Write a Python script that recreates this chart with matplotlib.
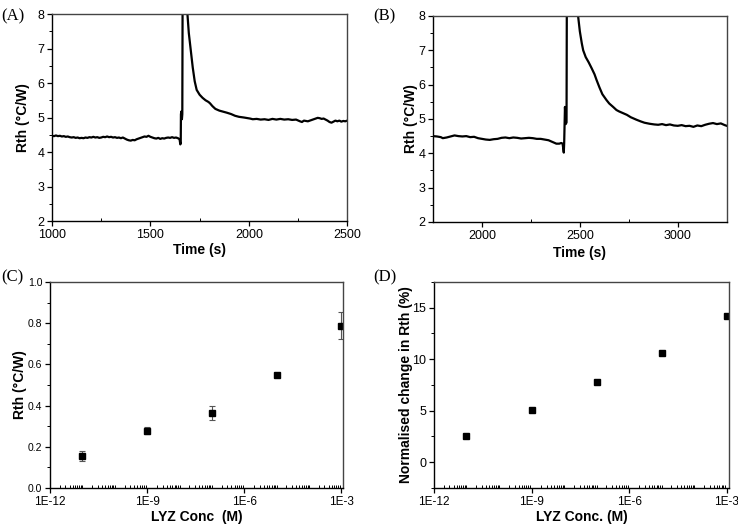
import numpy as np
import matplotlib
matplotlib.use("Agg")
import matplotlib.pyplot as plt
from matplotlib.ticker import MultipleLocator, LogLocator, FixedLocator, FuncFormatter, NullFormatter

plt.rcParams['font.family'] = ['Liberation Sans', 'DejaVu Sans']

# (A) time trace, 1st sensor run
t_a = [1000, 1010, 1020, 1030, 1040, 1050, 1060, 1070, 1080, 1090, 1100, 1110, 1120, 1130, 1140,
       1150, 1160, 1170, 1180, 1190, 1200, 1210, 1220, 1230, 1240, 1250, 1260, 1270, 1280, 1290,
       1300, 1310, 1320, 1330, 1340, 1350, 1360, 1370, 1380, 1390, 1400, 1410, 1420, 1430, 1440,
       1450, 1460, 1470, 1480, 1490, 1500, 1510, 1520, 1530, 1540, 1550, 1560, 1570, 1580, 1590,
       1600, 1610, 1620, 1630, 1640, 1648, 1652, 1654, 1655, 1658, 1660, 1662, 1664, 1686, 1688,
       1695, 1705, 1715, 1725, 1735, 1750, 1765, 1780, 1795, 1803, 1815, 1830, 1850, 1870, 1888,
       1910, 1930, 1950, 1975, 2006, 2020, 2040, 2060, 2080, 2100, 2120, 2140, 2160, 2180, 2200,
       2220, 2240, 2260, 2270, 2280, 2300, 2320, 2340, 2350, 2360, 2370, 2380, 2390, 2400, 2410,
       2420, 2430, 2440, 2450, 2460, 2470, 2480, 2490, 2500]
r_a = [4.47, 4.46, 4.48, 4.46, 4.47, 4.45, 4.46, 4.44, 4.45, 4.43, 4.42, 4.43, 4.41, 4.42, 4.40,
       4.41, 4.40, 4.42, 4.41, 4.43, 4.42, 4.44, 4.42, 4.43, 4.41, 4.42, 4.44, 4.43, 4.45, 4.43,
       4.44, 4.42, 4.43, 4.41, 4.42, 4.40, 4.42, 4.39, 4.36, 4.34, 4.33, 4.35, 4.34, 4.37, 4.39,
       4.41, 4.43, 4.45, 4.44, 4.47, 4.44, 4.42, 4.40, 4.39, 4.41, 4.38, 4.40, 4.39, 4.41, 4.42,
       4.41, 4.43, 4.41, 4.42, 4.40, 4.37, 4.22, 4.26, 5.10, 5.18, 4.95, 5.10, 9.50, 9.50, 8.00,
       7.45, 6.96, 6.45, 6.05, 5.80, 5.66, 5.57, 5.50, 5.45, 5.41, 5.33, 5.25, 5.20, 5.17, 5.14,
       5.10, 5.05, 5.02, 5.00, 4.97, 4.95, 4.96, 4.94, 4.95, 4.93, 4.96, 4.94, 4.96, 4.94, 4.95,
       4.93, 4.94, 4.89, 4.87, 4.91, 4.89, 4.93, 4.97, 4.99, 4.98, 4.96, 4.97, 4.94, 4.91, 4.87,
       4.85, 4.88, 4.91, 4.89, 4.91, 4.88, 4.90, 4.89, 4.91]

# (B) time trace, 2nd sensor run
t_b = [1750, 1770, 1790, 1800, 1820, 1840, 1860, 1880, 1900, 1920, 1940, 1960, 1980, 2000, 2020,
       2040, 2060, 2080, 2100, 2120, 2140, 2160, 2180, 2200, 2220, 2240, 2260, 2280, 2300, 2320,
       2340, 2360, 2380, 2395, 2405, 2412, 2418, 2420, 2424, 2428, 2432, 2434, 2488, 2491, 2500,
       2510, 2517, 2530, 2545, 2560, 2575, 2585, 2600, 2615, 2636, 2650, 2670, 2687, 2700, 2720,
       2740, 2760, 2788, 2810, 2830, 2856, 2880, 2900, 2920, 2940, 2960, 2980, 3000, 3020, 3040,
       3060, 3080, 3100, 3120, 3140, 3160, 3180, 3200, 3220, 3240, 3250]
r_b = [4.50, 4.49, 4.47, 4.44, 4.46, 4.49, 4.52, 4.50, 4.49, 4.50, 4.47, 4.48, 4.44, 4.42, 4.40,
       4.39, 4.41, 4.42, 4.45, 4.46, 4.44, 4.46, 4.45, 4.43, 4.44, 4.45, 4.44, 4.42, 4.42, 4.40,
       4.38, 4.33, 4.28, 4.28, 4.30, 4.28, 4.02, 4.30, 5.35, 4.85, 4.90, 9.50, 9.50, 8.00, 7.55,
       7.20, 7.00, 6.80, 6.65, 6.48, 6.30, 6.14, 5.92, 5.72, 5.55, 5.45, 5.35, 5.26, 5.22, 5.17,
       5.12, 5.05, 4.98, 4.93, 4.89, 4.86, 4.84, 4.83, 4.85, 4.82, 4.84, 4.81, 4.80, 4.82, 4.79,
       4.80, 4.77, 4.81, 4.79, 4.83, 4.86, 4.88, 4.85, 4.87, 4.82, 4.80]

# (C) and (D) concentration series
conc = [1e-11, 1e-9, 1e-7, 1e-5, 1e-3]
rth_c = [0.155, 0.278, 0.365, 0.547, 0.787]
err_c = [0.026, 0.018, 0.035, 0.006, 0.065]
norm_d = [2.55, 5.1, 7.8, 10.65, 14.15]


def style(ax):
    for s in ['left', 'bottom']:
        ax.spines[s].set_color('black')
    for s in ['top', 'right']:
        ax.spines[s].set_color('#444444')
    for s in ax.spines.values():
        s.set_linewidth(1.0)
    ax.tick_params(which='major', direction='out', length=3.5, width=0.9, pad=2, labelsize=9)
    ax.tick_params(axis='y', which='minor', direction='out', length=2, width=0.7)
    ax.tick_params(axis='x', which='minor', direction='in', length=2, width=0.7)


LAB = dict(fontsize=10, fontweight='bold')

fig = plt.figure(figsize=(7.38, 5.31), dpi=100)

axA = fig.add_axes([0.0705, 0.5838, 0.400, 0.3898])
axA.plot(t_a, r_a, color='black', lw=1.6)
axA.set_xlim(1000, 2500)
axA.set_ylim(2, 8)
axA.xaxis.set_major_locator(MultipleLocator(500))
axA.xaxis.set_minor_locator(MultipleLocator(250))
axA.yaxis.set_major_locator(MultipleLocator(1))
axA.yaxis.set_minor_locator(MultipleLocator(0.5))
style(axA)
axA.set_xlabel('Time (s)', **LAB)
axA.set_ylabel('Rth (°C/W)', **LAB)
axA.xaxis.set_label_coords(0.5, -0.106)
axA.yaxis.set_label_coords(-0.075, 0.5)

axB = fig.add_axes([0.5867, 0.582, 0.398, 0.388])
axB.plot(t_b, r_b, color='black', lw=1.6)
axB.set_xlim(1750, 3250)
axB.set_ylim(2, 8)
axB.xaxis.set_major_locator(MultipleLocator(500))
axB.xaxis.set_minor_locator(MultipleLocator(250))
axB.yaxis.set_major_locator(MultipleLocator(1))
axB.yaxis.set_minor_locator(MultipleLocator(0.5))
style(axB)
axB.set_xlabel('Time (s)', **LAB)
axB.set_ylabel('Rth (°C/W)', **LAB)
axB.xaxis.set_label_coords(0.5, -0.117)
axB.yaxis.set_label_coords(-0.051, 0.5)

sci = FuncFormatter(lambda v, p: '1E%d' % int(round(np.log10(v))))

axC = fig.add_axes([0.0678, 0.081, 0.397, 0.388])
axC.errorbar(conc, rth_c, yerr=err_c, fmt='s', color='black', ms=5,
             ecolor='#555555', elinewidth=0.8, capsize=2.5, capthick=0.8)
axC.set_xscale('log')
axC.set_xlim(1e-12, 10 ** -2.95)
axC.set_ylim(0, 1.0)
axC.xaxis.set_major_locator(FixedLocator([1e-12, 1e-9, 1e-6, 1e-3]))
axC.xaxis.set_major_formatter(sci)
axC.xaxis.set_minor_locator(LogLocator(base=10, subs=np.arange(1, 10), numticks=50))
axC.xaxis.set_minor_formatter(NullFormatter())
axC.yaxis.set_major_locator(MultipleLocator(0.2))
axC.yaxis.set_minor_locator(MultipleLocator(0.1))
axC.yaxis.set_major_formatter(FuncFormatter(lambda v, p: '%.1f' % v))
style(axC)
axC.tick_params(axis='y', labelsize=7.5)
axC.tick_params(axis='x', labelsize=8.5)
axC.set_xlabel('LYZ Conc  (M)', **LAB)
axC.set_ylabel('Rth (°C/W)', **LAB)
axC.xaxis.set_label_coords(0.5, -0.107)
axC.yaxis.set_label_coords(-0.078, 0.5)

axD = fig.add_axes([0.588, 0.081, 0.3997, 0.388])
axD.plot(conc, norm_d, 's', color='black', ms=5)
axD.set_xscale('log')
axD.set_xlim(1e-12, 10 ** -2.93)
axD.set_ylim(-2.5, 17.5)
axD.xaxis.set_major_locator(FixedLocator([1e-12, 1e-9, 1e-6, 1e-3]))
axD.xaxis.set_major_formatter(sci)
axD.xaxis.set_minor_locator(LogLocator(base=10, subs=np.arange(1, 10), numticks=50))
axD.xaxis.set_minor_formatter(NullFormatter())
axD.yaxis.set_major_locator(MultipleLocator(5))
axD.yaxis.set_minor_locator(MultipleLocator(2.5))
style(axD)
axD.tick_params(axis='x', labelsize=8.5)
axD.set_xlabel('LYZ Conc. (M)', **LAB)
axD.set_ylabel('Normalised change in Rth (%)', **LAB)
axD.xaxis.set_label_coords(0.5, -0.107)
axD.yaxis.set_label_coords(-0.071, 0.5)

for lab, x, y in [('(A)', 0.002, 0.985), ('(B)', 0.506, 0.985),
                  ('(C)', 0.002, 0.493), ('(D)', 0.506, 0.493)]:
    fig.text(x, y, lab, family=['Liberation Serif', 'DejaVu Serif'], fontsize=12, va='top', ha='left')

fig.savefig('out.png', dpi=100)
